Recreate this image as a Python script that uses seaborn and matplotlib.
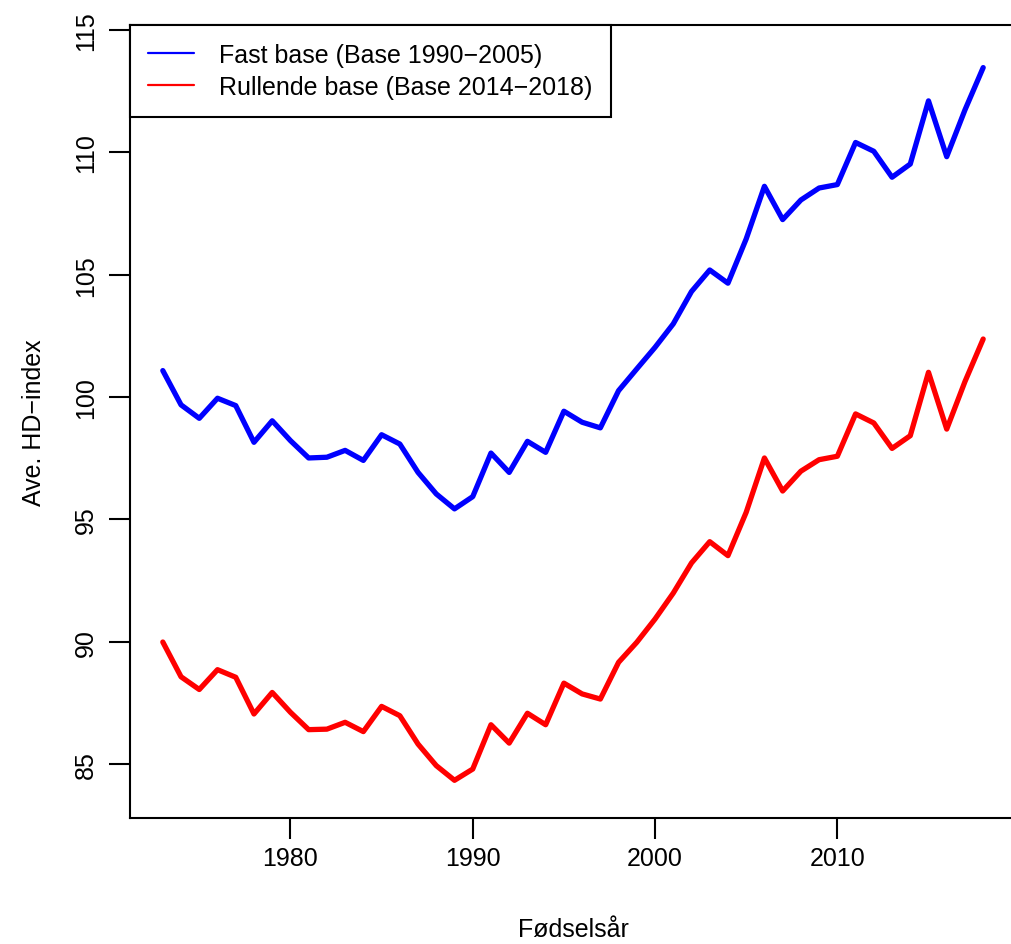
import matplotlib
matplotlib.use("Agg")
import matplotlib.pyplot as plt
import seaborn as sns
import pandas as pd

# Birth cohorts and average HD-index under the two base definitions
years = list(range(1973, 2019))
fast_base = [101.08, 99.68, 99.13, 99.95, 99.65, 98.15, 99.03, 98.22, 97.51, 97.54,
             97.82, 97.41, 98.46, 98.08, 96.92, 96.04, 95.43, 95.93, 97.71, 96.92,
             98.19, 97.74, 99.42, 98.97, 98.74, 100.26, 101.15, 102.03, 102.99, 104.31,
             105.19, 104.65, 106.46, 108.61, 107.25, 108.05, 108.54, 108.68, 110.40, 110.04,
             108.98, 109.52, 112.10, 109.82, 111.73, 113.46]
rullende_base = [89.99, 88.57, 88.05, 88.86, 88.55, 87.05, 87.93, 87.12, 86.41, 86.43,
                 86.71, 86.33, 87.36, 86.98, 85.82, 84.94, 84.34, 84.80, 86.61, 85.86,
                 87.08, 86.61, 88.31, 87.87, 87.66, 89.16, 89.98, 90.93, 91.99, 93.22,
                 94.09, 93.52, 95.29, 97.51, 96.16, 96.97, 97.44, 97.58, 99.31, 98.94,
                 97.90, 98.42, 101.01, 98.69, 100.63, 102.37]
series_labels = ["Fast base (Base 1990\u22122005)", "Rullende base (Base 2014\u22122018)"]
series_colors = ["#0000FF", "#FF0000"]
x_ticks = [1980, 1990, 2000, 2010]
y_ticks = [85, 90, 95, 100, 105, 110, 115]

df = pd.DataFrame({
    "year": years * 2,
    "value": fast_base + rullende_base,
    "series": [series_labels[0]] * len(years) + [series_labels[1]] * len(years),
})

sns.set_style("ticks")
plt.rcParams["font.family"] = ["Liberation Sans", "DejaVu Sans"]
plt.rcParams["font.size"] = 18
for key in ["text.color", "axes.labelcolor", "xtick.color", "ytick.color",
            "xtick.labelcolor", "ytick.labelcolor"]:
    plt.rcParams[key] = "black"

FS = 18

fig = plt.figure(figsize=(10.11, 9.45), dpi=100)
ax = fig.add_axes([130 / 1011, 1 - 819 / 945, (1016 - 130) / 1011, (819 - 26) / 945])

sns.lineplot(data=df, x="year", y="value", hue="series", hue_order=series_labels,
             palette=series_colors, linewidth=3.8, ax=ax, legend=False)

ax.set_xlim(1971.2, 2019.8)
ax.set_ylim(82.8, 115.2)
ax.set_xticks(x_ticks)
ax.set_yticks(y_ticks)
ax.set_yticklabels([str(v) for v in y_ticks], rotation=90, va="center")
ax.tick_params(axis="both", direction="out", length=15, width=1.5, colors="black",
               labelsize=FS)
ax.tick_params(axis="x", pad=5)
ax.tick_params(axis="y", pad=8)
for side in ["left", "right", "top", "bottom"]:
    ax.spines[side].set_visible(True)
    ax.spines[side].set_color("black")
    ax.spines[side].set_linewidth(1.5)

ax.set_xlabel("Fødselsår", fontsize=FS, labelpad=34)
ax.set_ylabel("Ave. HD\u2212index", fontsize=FS, labelpad=20)

handles = [plt.Line2D([], [], color=c, linewidth=1.6) for c in series_colors]
leg = ax.legend(handles, series_labels, loc="upper left", bbox_to_anchor=(0, 1),
                borderaxespad=0, frameon=True, fancybox=False, framealpha=1,
                edgecolor="black", fontsize=FS, handlelength=1.85, handletextpad=1.0,
                labelspacing=0.3, borderpad=0.72)
leg.get_frame().set_linewidth(1.5)

fig.savefig("out.png", dpi=100, facecolor="white")
